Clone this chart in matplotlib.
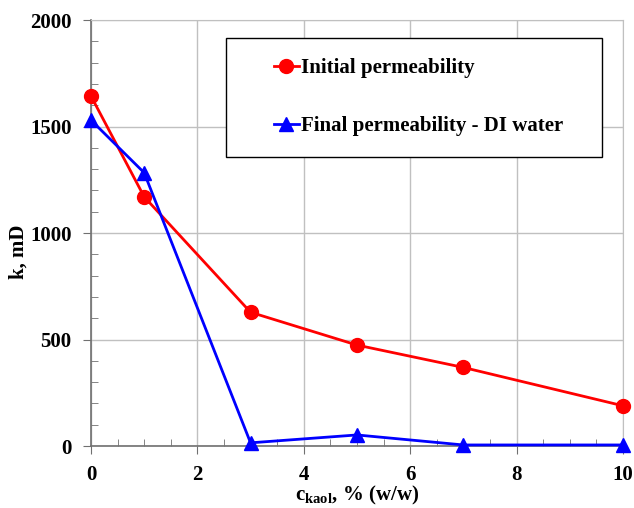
import matplotlib
matplotlib.use('Agg')
import matplotlib.pyplot as plt
from matplotlib.patches import Rectangle
from matplotlib.ticker import MultipleLocator

# kaolinite concentration, % (w/w)
conc = [0, 1, 3, 5, 7, 10]
# permeability, mD
k_initial = [1643, 1170, 628, 474, 369, 189]
k_final_di = [1530, 1283, 15, 52, 5, 5]

plt.rcParams['font.family'] = ['Liberation Serif', 'DejaVu Serif']
plt.rcParams['font.weight'] = 'bold'
plt.rcParams['mathtext.fontset'] = 'custom'
plt.rcParams['mathtext.rm'] = 'Liberation Serif:bold'
plt.rcParams['mathtext.bf'] = 'Liberation Serif:bold'
plt.rcParams['mathtext.it'] = 'Liberation Serif:bold'

fig = plt.figure(figsize=(6.34, 5.08), dpi=100)
ax = fig.add_axes([0.1435, 0.122, 0.839, 0.8386])

ax.plot(conc, k_initial, color='red', lw=2, marker='o', ms=10, label='Initial permeability', zorder=3, clip_on=False)
ax.plot(conc, k_final_di, color='blue', lw=2, marker='^', ms=10, label='Final permeability - DI water', zorder=3, clip_on=False)

ax.set_xlim(0, 10)
ax.set_ylim(0, 2000)
ax.xaxis.set_major_locator(MultipleLocator(2))
ax.xaxis.set_minor_locator(MultipleLocator(0.5))
ax.yaxis.set_major_locator(MultipleLocator(500))
ax.yaxis.set_minor_locator(MultipleLocator(100))

ax.grid(True, which='major', color='#c0c0c0', lw=1)
ax.set_axisbelow(True)
for s in ['top', 'right']:
    ax.spines[s].set_color('#c0c0c0')
for s in ['left', 'bottom']:
    ax.spines[s].set_color('#707070')
    ax.spines[s].set_linewidth(1.2)

ax.tick_params(which='major', direction='out', length=6, color='#707070', labelsize=15, pad=8)
ax.tick_params(which='minor', direction='in', length=5, color='#707070')
ax.tick_params(top=False, right=False)
for lab in ax.get_xticklabels() + ax.get_yticklabels():
    lab.set_fontweight('bold')

ax.set_xlabel(r'c$_{\mathrm{kaol}}$, % (w/w)', fontsize=15, fontweight='bold')
ax.set_ylabel('k, mD', fontsize=15, fontweight='bold')
ax.xaxis.set_label_coords(0.5, -0.09)
ax.yaxis.set_label_coords(-0.118, 0.455)

# legend frame
ax.add_patch(Rectangle((0.254, 0.678), 0.706, 0.28, transform=ax.transAxes,
                       facecolor='white', edgecolor='black', lw=1, zorder=4))
leg = ax.legend(loc='upper left', bbox_to_anchor=(0.344, 0.911), frameon=False,
                numpoints=1, handlelength=1.2, handletextpad=0.1, labelspacing=1.85,
                borderpad=0, borderaxespad=0,
                prop={'family': 'Liberation Serif', 'weight': 'bold', 'size': 15})
leg.set_zorder(5)

fig.savefig('out.png', dpi=100)
